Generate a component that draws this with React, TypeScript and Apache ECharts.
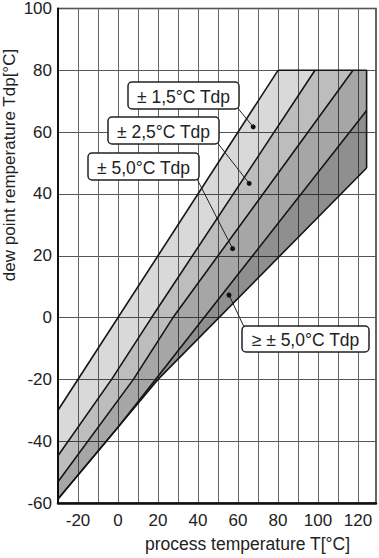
import React, { useEffect, useRef } from 'react';
import * as echarts from 'echarts';

// ---- axes ----
const X_MIN = -30;
const X_MAX = 129;
const Y_MIN = -60;
const Y_MAX = 100;
const xLabelValues = [-20, 0, 20, 40, 60, 80, 100, 120];

// ---- boundary curves [T, Tdp] ----
const lineA = [[-30, -30], [80, 80]];
const lineB = [[-30, -44.7], [-3.2, -20], [16.8, 0], [98.5, 80]];
const lineC = [[-30, -53.1], [7.7, -20], [27.5, 0], [117.5, 80]];
const lineD = [[-30, -58.7], [0, -35.5], [124.3, 67]];
const lineE = [[-30, -58.7], [0, -35.5], [20, -20], [124.3, 48.4]];
const outerEdge = [[80, 80], [124.3, 80], [124.3, 48.4]];

// ---- annotations ----
const bandLabels = ['± 1,5°C Tdp', '± 2,5°C Tdp', '± 5,0°C Tdp', '≥ ± 5,0°C Tdp'];
const markerPoints = [[67.6, 61.7], [65.6, 43.4], [57.3, 22.3], [55.5, 7.3]];

const FONT = '"Liberation Sans", Arial, Helvetica, sans-serif';

function rev(a: number[][]) {
  return a.slice().reverse();
}

const band1 = lineA.concat(rev(lineB));
const band2 = lineB.concat(rev(lineC));
const band3 = lineC.concat([[outerEdge[1][0], outerEdge[1][1]]]).concat(rev(lineD));
const band4 = lineD.concat(rev(lineE));

const bands = [
  { poly: band1, fill: 'rgba(0,0,0,0.15)' },
  { poly: band2, fill: 'rgba(0,0,0,0.26)' },
  { poly: band3, fill: 'rgba(0,0,0,0.35)' },
  { poly: band4, fill: 'rgba(0,0,0,0.44)' },
];

// label box layout (pixels)
const boxes = [
  { x: 128, y: 82, w: 111, h: 27, ax: 236, ay: 106 },
  { x: 108, y: 117, w: 111, h: 27, ax: 216, ay: 141 },
  { x: 88, y: 153, w: 111, h: 27, ax: 196, ay: 177 },
  { x: 242, y: 326, w: 127, h: 26, ax: 245, ay: 329 },
];

export default function App() {
  const ref = useRef<HTMLDivElement>(null);
  useEffect(() => {
    if (!ref.current) return;
    const chart = echarts.init(ref.current, undefined, { renderer: 'svg' });
    const series: any[] = [];
    bands.forEach((b) => {
      series.push({
        type: 'custom',
        data: b.poly,
        encode: { x: 0, y: 1 },
        silent: true,
        z: 1,
        renderItem: (params: any, api: any) => {
          if (params.dataIndex !== 0) return null;
          const pts = b.poly.map((p) => api.coord(p));
          return {
            type: 'polygon',
            shape: { points: pts },
            style: { fill: b.fill, stroke: 'none' },
          };
        },
      });
    });
    [lineA, lineB, lineC, lineD, lineE, outerEdge].forEach((l) => {
      series.push({
        type: 'line',
        data: l,
        showSymbol: false,
        silent: true,
        z: 3,
        lineStyle: { color: '#151515', width: 1.6 },
      });
    });

    chart.setOption({
      animation: false,
      grid: {
        left: 58,
        top: 7,
        right: 3,
        bottom: 54,
        show: true,
        borderColor: '#333',
        borderWidth: 1.5,
      },
      xAxis: {
        type: 'value',
        min: X_MIN,
        max: X_MAX,
        interval: 10,
        name: 'process temperature T[°C]',
        nameLocation: 'middle',
        nameGap: 32,
        nameTextStyle: {
          fontSize: 17.5,
          fontFamily: FONT,
          color: '#222',
          padding: [0, 0, 0, 61],
        },
        axisLine: { onZero: false, lineStyle: { color: '#111', width: 2.5 } },
        axisTick: { show: false },
        axisLabel: {
          fontSize: 17,
          fontFamily: FONT,
          color: '#222',
          margin: 9,
          formatter: (v: number) => (xLabelValues.indexOf(v) >= 0 ? String(v) : ''),
        },
        splitLine: { show: true, lineStyle: { color: '#666', width: 1 } },
      },
      yAxis: {
        type: 'value',
        min: Y_MIN,
        max: Y_MAX,
        interval: 20,
        axisLine: { show: true, onZero: false, lineStyle: { color: '#111', width: 2 } },
        axisTick: { show: false },
        axisLabel: {
          fontSize: 17,
          fontFamily: FONT,
          color: '#222',
          margin: 6,
        },
        splitLine: { show: true, lineStyle: { color: '#555', width: 1 } },
      },
      series,
    });

    const graphics: any[] = [];
    graphics.push({
      type: 'text',
      x: 9.5,
      y: 165,
      rotation: Math.PI / 2,
      z: 100,
      style: {
        text: 'dew point remperature Tdp[°C]',
        font: `17px ${FONT}`,
        fill: '#222',
        align: 'center',
        verticalAlign: 'middle',
      },
    });
    boxes.forEach((bx, i) => {
      const p = chart.convertToPixel({ gridIndex: 0 }, markerPoints[i]) as number[];
      graphics.push({
        type: 'line',
        z: 100,
        shape: { x1: bx.ax, y1: bx.ay, x2: p[0], y2: p[1] },
        style: { stroke: '#222', lineWidth: 1 },
      });
      graphics.push({
        type: 'circle',
        z: 101,
        shape: { cx: p[0], cy: p[1], r: 2.5 },
        style: { fill: '#111' },
      });
      graphics.push({
        type: 'rect',
        z: 102,
        shape: { x: bx.x, y: bx.y, width: bx.w, height: bx.h, r: 4 },
        style: { fill: '#fff', stroke: '#222', lineWidth: 1.5 },
      });
      graphics.push({
        type: 'text',
        z: 103,
        x: bx.x + bx.w / 2,
        y: bx.y + bx.h / 2 + 1,
        style: {
          text: bandLabels[i],
          font: `17.5px ${FONT}`,
          fill: '#222',
          align: 'center',
          verticalAlign: 'middle',
        },
      });
    });
    chart.setOption({ graphic: graphics });

    return () => chart.dispose();
  }, []);
  return (
    <div
      ref={ref}
      style={{ position: 'absolute', left: 0, top: 0, width: 379, height: 558, background: '#fff' }}
    />
  );
}
